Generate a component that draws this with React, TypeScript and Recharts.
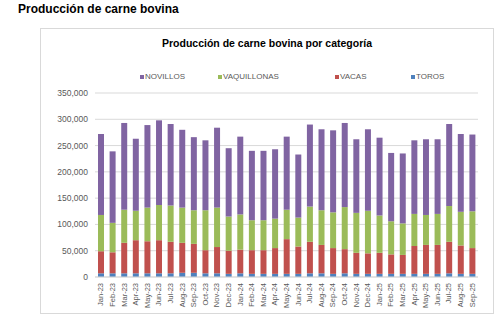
import React from "react";
import {
  BarChart,
  Bar,
  XAxis,
  YAxis,
  CartesianGrid,
  Legend,
} from "recharts";

// Meses (Jan-23 .. Sep-25)
const months = [
  "Jan-23", "Feb-23", "Mar-23", "Apr-23", "May-23", "Jun-23", "Jul-23", "Aug-23",
  "Sep-23", "Oct-23", "Nov-23", "Dec-23", "Jan-24", "Feb-24", "Mar-24", "Apr-24",
  "May-24", "Jun-24", "Jul-24", "Aug-24", "Sep-24", "Oct-24", "Nov-24", "Dec-24",
  "Jan-25", "Feb-25", "Mar-25", "Apr-25", "May-25", "Jun-25", "Jul-25", "Aug-25",
  "Sep-25",
];

// Valores por categoría
const toros = [
  7000, 7000, 7000, 7000, 7000, 7000, 7000, 8000, 8000, 7000, 7000, 6000, 7000,
  6000, 6000, 6000, 6000, 6000, 7000, 7000, 6000, 7000, 6000, 6000, 6000, 6000,
  6000, 6000, 6000, 6000, 7000, 6000, 6000,
];
const vacas = [
  42000, 40000, 58000, 63000, 61000, 63000, 60000, 57000, 55000, 44000, 50000,
  44000, 45000, 45000, 45000, 49000, 66000, 52000, 60000, 54000, 49000, 46000,
  40000, 39000, 40000, 37000, 36000, 53000, 55000, 55000, 60000, 54000, 49000,
];
const vaquillonas = [
  69000, 56000, 63000, 56000, 64000, 67000, 69000, 67000, 64000, 76000, 75000,
  65000, 67000, 57000, 57000, 56000, 56000, 55000, 67000, 66000, 68000, 80000,
  76000, 81000, 71000, 63000, 60000, 61000, 57000, 59000, 68000, 64000, 70000,
];
const novillos = [
  154000, 136000, 165000, 137000, 157000, 161000, 155000, 148000, 139000, 133000,
  152000, 130000, 148000, 132000, 132000, 132000, 139000, 120000, 156000, 154000,
  156000, 160000, 140000, 155000, 148000, 130000, 133000, 140000, 144000, 142000,
  156000, 148000, 146000,
];

const yTicks = [0, 50000, 100000, 150000, 200000, 250000, 300000, 350000];

const legendItems = [
  { label: "NOVILLOS", color: "#8064A2", left: 99 },
  { label: "VAQUILLONAS", color: "#9BBB59", left: 177 },
  { label: "VACAS", color: "#C0504D", left: 294 },
  { label: "TOROS", color: "#4F81BD", left: 370 },
];

const data = months.map((m, i) => ({
  month: m,
  toros: toros[i],
  vacas: vacas[i],
  vaquillonas: vaquillonas[i],
  novillos: novillos[i],
}));

const FONT = "'Liberation Sans', Arial, sans-serif";

const XTick = (props: any) => {
  const { x, y, payload } = props;
  return (
    <text
      x={x}
      y={y}
      transform={`rotate(-90, ${x}, ${y})`}
      textAnchor="end"
      dominantBaseline="central"
      fontSize={7.5}
      fontFamily={FONT}
      fill="#595959"
    >
      {payload.value}
    </text>
  );
};

const LegendContent = () => (
  <div style={{ position: "relative", height: 12 }}>
    {legendItems.map((it) => (
      <div
        key={it.label}
        style={{
          position: "absolute",
          left: it.left,
          top: 0,
          display: "flex",
          alignItems: "center",
          fontSize: 8,
          fontFamily: FONT,
          color: "#595959",
          whiteSpace: "nowrap",
        }}
      >
        <span
          style={{
            display: "inline-block",
            width: 4,
            height: 4,
            background: it.color,
            marginRight: 1,
          }}
        />
        {it.label}
      </div>
    ))}
  </div>
);

export default function App() {
  return (
    <div
      style={{
        position: "absolute",
        left: 0,
        top: 0,
        width: 504,
        height: 327,
        background: "#fff",
        fontFamily: FONT,
      }}
    >
      <div
        style={{
          position: "absolute",
          left: 18,
          top: 2,
          fontSize: 12,
          fontWeight: "bold",
          color: "#000",
        }}
      >
        Producción de carne bovina
      </div>

      <div
        style={{
          position: "absolute",
          left: 40,
          top: 28,
          width: 452,
          height: 284,
          border: "1px solid #d9d9d9",
        }}
      >
        <div
          style={{
            position: "absolute",
            left: 0,
            width: "100%",
            top: 8,
            textAlign: "center",
            fontSize: 10.5,
            fontWeight: "bold",
            color: "#000",
          }}
        >
          Producción de carne bovina por categoría
        </div>

        <BarChart
          width={452}
          height={284}
          data={data}
          margin={{ top: 52, right: 15, bottom: 0, left: 0 }}
        >
          <CartesianGrid vertical={false} stroke="#d9d9d9" />
          <XAxis
            dataKey="month"
            interval={0}
            height={36}
            tickLine={false}
            tickSize={4}
            tickMargin={2}
            axisLine={{ stroke: "#d9d9d9" }}
            tick={<XTick />}
          />
          <YAxis
            width={54}
            domain={[0, 350000]}
            ticks={yTicks}
            axisLine={false}
            tickLine={false}
            tickSize={5}
            tickMargin={2}
            tick={{ fontSize: 8.5, fill: "#595959", fontFamily: FONT }}
            tickFormatter={(v: number) => v.toLocaleString("en-US")}
          />
          <Legend
            verticalAlign="top"
            align="left"
            height={12}
            content={<LegendContent />}
            wrapperStyle={{ top: 43, left: 0, width: 452 }}
          />
          <Bar dataKey="toros" stackId="a" fill="#4F81BD" barSize={6} isAnimationActive={false} />
          <Bar dataKey="vacas" stackId="a" fill="#C0504D" barSize={6} isAnimationActive={false} />
          <Bar dataKey="vaquillonas" stackId="a" fill="#9BBB59" barSize={6} isAnimationActive={false} />
          <Bar dataKey="novillos" stackId="a" fill="#8064A2" barSize={6} isAnimationActive={false} />
        </BarChart>
      </div>
    </div>
  );
}
